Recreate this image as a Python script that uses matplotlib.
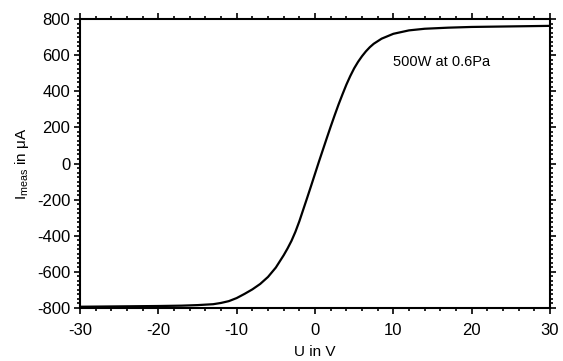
import matplotlib
matplotlib.use("Agg")
import matplotlib.pyplot as plt
from matplotlib.ticker import MultipleLocator

plt.rcParams['font.family'] = ['Liberation Sans', 'DejaVu Sans']
plt.rcParams['axes.unicode_minus'] = False
plt.rcParams['mathtext.fontset'] = 'custom'
plt.rcParams['mathtext.rm'] = 'Liberation Sans'

voltage = [-30, -25, -20, -17, -15, -13, -12, -11, -10, -9, -8, -7, -6, -5, -4, -3.5, -3,
           -2.5, -2, -1.5, -1, -0.5, 0, 0.5, 1, 1.5, 2, 2.5, 3, 3.5, 4, 4.5, 5, 5.5,
           6, 6.5, 7, 7.5, 8.5, 10, 12, 14, 17, 20, 25, 30]
current = [-793, -791, -789, -787, -784, -779, -772, -762, -745, -722, -697, -667, -628,
           -576, -508, -470, -428, -378, -320, -255, -190, -124, -57, 10, 75, 140, 204, 266,
           326, 382, 436, 484, 527, 563, 594, 621, 644, 663, 691, 718, 737, 746, 752,
           756, 759, 762]

x_ticks = [-30, -20, -10, 0, 10, 20, 30]
y_ticks = [-800, -600, -400, -200, 0, 200, 400, 600, 800]
annotation = "500W at 0.6Pa"

fig = plt.figure(figsize=(5.63, 3.61), dpi=100)
ax = fig.add_axes([80/563, 1-308/361, (550-80)/563, (308-19)/361])
ax.plot(voltage, current, color='black', lw=1.6)
ax.set_xlim(-30, 30)
ax.set_ylim(-800, 800)
ax.set_xticks(x_ticks)
ax.set_yticks(y_ticks)
ax.xaxis.set_minor_locator(MultipleLocator(2))
ax.yaxis.set_minor_locator(MultipleLocator(25))
ax.tick_params(which='both', direction='out', top=True, right=True, labelsize=12,
               width=1.2)
ax.tick_params(axis='x', which='major', pad=7)
ax.tick_params(axis='y', which='major', pad=3)
ax.tick_params(which='major', length=4)
ax.tick_params(which='minor', length=2.5)
for s in ax.spines.values():
    s.set_linewidth(1.5)
ax.set_xlabel("U in V", fontsize=11, labelpad=5)
ax.set_ylabel(r"I$_{\mathrm{meas}}$ in μA", fontsize=11, labelpad=4)
ax.text(16.1, 562, annotation, fontsize=10.5, ha='center', va='center')
fig.savefig("out.png", dpi=100)
